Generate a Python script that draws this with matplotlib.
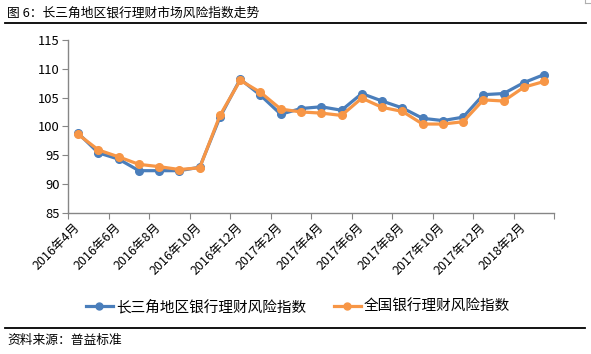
import matplotlib
matplotlib.use('Agg')
import matplotlib.pyplot as plt
from matplotlib.lines import Line2D

plt.rcParams['font.family'] = ['Noto Sans CJK SC', 'DejaVu Sans']

months = ['2016年4月', '2016年5月', '2016年6月', '2016年7月', '2016年8月', '2016年9月',
          '2016年10月', '2016年11月', '2016年12月', '2017年1月', '2017年2月', '2017年3月',
          '2017年4月', '2017年5月', '2017年6月', '2017年7月', '2017年8月', '2017年9月',
          '2017年10月', '2017年11月', '2017年12月', '2018年1月', '2018年2月', '2018年3月']
yrd_index = [98.8, 95.4, 94.3, 92.3, 92.3, 92.3, 92.9, 101.6, 108.2, 105.4, 102.1, 103.1,
             103.4, 102.8, 105.7, 104.4, 103.2, 101.4, 101.0, 101.6, 105.5, 105.7, 107.6, 109.0]
national_index = [98.6, 95.9, 94.7, 93.4, 93.0, 92.5, 92.8, 101.9, 108.0, 105.9, 103.0, 102.5,
                  102.3, 101.9, 104.9, 103.3, 102.6, 100.4, 100.4, 100.8, 104.6, 104.4, 106.8, 107.8]
series_names = ['长三角地区银行理财风险指数', '全国银行理财风险指数']

BLUE = '#4a7ebb'
ORANGE = '#f79646'
AXIS = '#868686'

fig = plt.figure(figsize=(5.91, 3.54), dpi=100)
ax = fig.add_axes([68 / 591, 1 - 212.7 / 354, (554.3 - 68) / 591, (212.7 - 40) / 354])

x = list(range(len(months)))
ax.plot(x, yrd_index, color=BLUE, lw=2.3, marker='o', ms=5.5, zorder=3)
ax.plot(x, national_index, color=ORANGE, lw=2.3, marker='o', ms=5.5, zorder=4)

ax.set_xlim(-0.5, len(months) - 0.5)
ax.set_ylim(85, 115)
ax.set_yticks(range(85, 116, 5))
ax.tick_params(axis='y', direction='out', length=4, color=AXIS, labelsize=9.3, pad=2)

# tick marks between categories, labels every 2 months
ax.set_xticks([i - 0.5 for i in range(0, len(months) + 1, 2)])
ax.set_xticks(list(range(0, len(months), 2)), minor=True)
ax.set_xticklabels([])
ax.set_xticklabels([months[i] for i in range(0, len(months), 2)], minor=True,
                   rotation=45, ha='right', va='center', rotation_mode='anchor', fontsize=9)
ax.tick_params(axis='x', which='major', direction='out', length=4, color=AXIS)
ax.tick_params(axis='x', which='minor', length=0, pad=9)

for s in ['top', 'right']:
    ax.spines[s].set_visible(False)
for s in ['left', 'bottom']:
    ax.spines[s].set_color(AXIS)
    ax.spines[s].set_linewidth(1)

handles = [Line2D([], [], color=BLUE, lw=2.3, marker='o', ms=5),
           Line2D([], [], color=ORANGE, lw=2.3, marker='o', ms=5)]
fig.legend(handles, series_names, loc='center', bbox_to_anchor=(0.504, 1 - 307 / 354),
           ncol=2, frameon=False, fontsize=10.5, handlelength=1.85, handletextpad=0.2,
           columnspacing=1.9)

fig.text(7 / 591, 1 - 13 / 354, '图 6：长三角地区银行理财市场风险指数走势', fontsize=9.2,
         ha='left', va='center')
fig.add_artist(Line2D([5 / 591, 586 / 591], [1 - 23 / 354] * 2, color='black', lw=1.3))
fig.add_artist(Line2D([5 / 591, 585 / 591], [1 - 328 / 354] * 2, color='black', lw=1.3))
fig.add_artist(Line2D([585 / 591, 585 / 591], [1 - 3 / 354, 1], color='#b0b0b0', lw=0.8))
fig.add_artist(Line2D([585 / 591, 1], [1 - 3 / 354] * 2, color='#b0b0b0', lw=0.8))
fig.text(7 / 591, 1 - 340 / 354, '资料来源：普益标准', fontsize=9.2, ha='left', va='center')

fig.savefig('out.png', dpi=100)
